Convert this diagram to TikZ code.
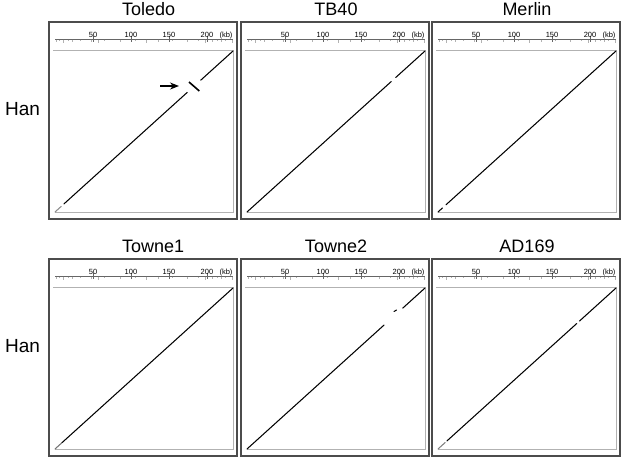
\documentclass[tikz,border=0pt]{standalone}
\usepackage{fontspec}
\setmainfont{Liberation Sans}
\usetikzlibrary{arrows.meta}

\begin{document}
\begin{tikzpicture}[x=1pt, y=-1pt,
	frame/.style={draw=black!70, line width=1.3pt},
	inner/.style={draw=black!30, line width=1pt},
	ruler/.style={draw=black!60, line width=0.6pt},
	hit/.style={line width=1.05pt, line cap=round},
	title/.style={font=\fontsize{18}{18}\selectfont, inner sep=0pt},
	kb/.style={font=\fontsize{7.5}{7.5}\selectfont, inner sep=0pt, anchor=base},
	row/.style={font=\fontsize{19}{19}\selectfont, inner sep=0pt, anchor=base west}]
	\useasboundingbox (0,0) rectangle (623,459);
	\foreach \px/\py/\tx/\ta/\name/\id/\segs in {
		49/22/73/base west/Toledo/a/{0/0.035/45,0.05/0.743/100,0.819/1/100},
		241/22/95/base/TB40/b/{0/0.81/100,0.835/1/100},
		432/22/95/base/Merlin/c/{0/0.025/100,0.045/1/100},
		49/259/73/base west/Towne1/d/{0/0.04/55,0.04/1/100},
		241/259/95/base/Towne2/e/{0/0.77/100,0.875/1/100},
		432/259/95/base/AD169/f/{0/0.04/50,0.05/0.78/100,0.795/1/100}} {
		\begin{scope}[shift={(\px,\py)}]
			\draw[frame] (0,0) rectangle (188,197);
			\node[title, anchor=\ta] (title\id) at (\tx,-7) {\name};
			\draw[ruler] (6,17) -- (184,17);
			\foreach \k/\lab in {1/50,2/100,3/150,4/200} {
				\draw[ruler] ({6+38*\k},14) -- ({6+38*\k},19.5);
				\node[kb] at ({6+38*\k},15) {\lab};
			}
			\node[kb] (kb\id) at (177,15) {(kb)};
			\foreach \g/\l in {7/2.5,10/1.5,14/3,19/1.5,23/2,31/1.5,42/2,49/3,55/1.5,71/2,86/1.5,97/3.5,109/2,123/1.5,138/2,149/1.5,156/3,163/2,168/1.5,172/2.5,176/1.5,183/3}
				\draw[black!30, line width=0.5pt] (\g,17.5) -- (\g,{17.5+\l});
			\draw[inner] (4,28) -- (184,28) -- (184,190) -- (6,190);
			\foreach \s/\e/\c in \segs
				\draw[hit, black!\c] ({6+178*\s},{190-161*\s}) -- ({6+178*\e},{190-161*\e});
		\end{scope}
	}
	\draw[line width=1.6pt] (189,82) -- (199.3,91);
	\coordinate (tail) at (160,86); \coordinate (tip) at (179,86);
	\draw[line width=1.3pt, -{Stealth[length=9pt, width=7pt]}] (tail) -- (tip);
	\draw[hit] (394,311.5) -- (396.5,310);
	\node[row] (han1) at (5,115) {Han};
	\node[row] (han2) at (5,352) {Han};
\end{tikzpicture}
\end{document}
